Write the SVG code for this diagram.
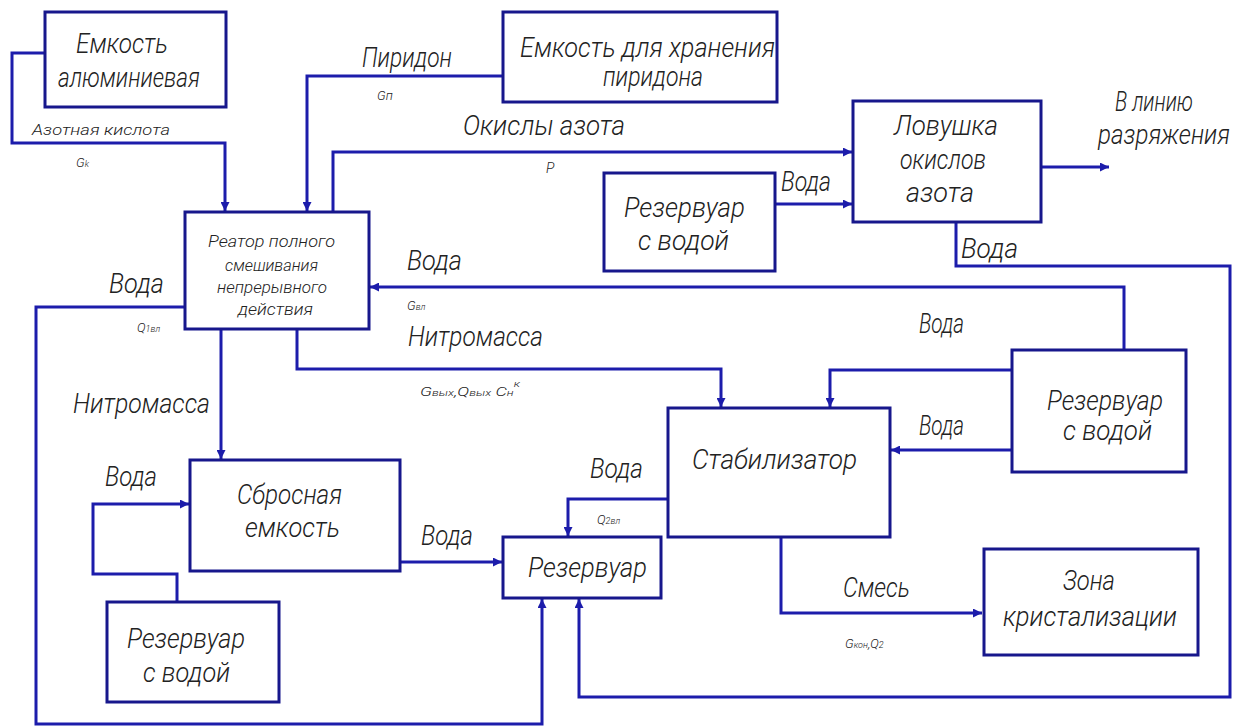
<svg xmlns="http://www.w3.org/2000/svg" width="1251" height="728" viewBox="0 0 1251 728">
  <style>
    .box { fill: #ffffff; stroke: #17178c; stroke-width: 3; }
    .ln { fill: none; stroke: #1c1cab; stroke-width: 3; stroke-linejoin: miter; }
    .arr { marker-end: url(#head); }
    text { font-family: Roboto, "Liberation Sans Narrow", "DejaVu Sans Condensed", sans-serif; font-style: italic; font-weight: 300; fill: #222222; }
    .big { font-size: 27px; }
    .mid { font-size: 16px; }
    .sm { font-size: 14px; }
    .xs { font-size: 13px; }
    .sub { font-size: 9px; }
  </style>
  <defs>
    <marker id="head" markerUnits="userSpaceOnUse" markerWidth="10" markerHeight="9" refX="9" refY="4.5" orient="auto">
      <path d="M0,0 L9,4.5 L0,9 Z" fill="#1c1cab"/>
    </marker>
  </defs>
  <rect width="1251" height="728" fill="#ffffff"/>

  <!-- flow lines -->
  <g id="connectors">
    <path class="ln arr" d="M45,53 H12 V143 H225 V211"/>
    <path class="ln arr" d="M503,76 H307 V211"/>
    <path class="ln arr" d="M333,212 V152 H852"/>
    <path class="ln arr" d="M775,204 H852"/>
    <path class="ln arr" d="M1040,167 H1109"/>
    <path class="ln arr" d="M956,222 V266 H1230 V697 H579 V599"/>
    <path class="ln arr" d="M1124,350 V287 H370"/>
    <path class="ln arr" d="M1012,370 H830 V407"/>
    <path class="ln arr" d="M1012,450 H891"/>
    <path class="ln arr" d="M297,329 V369 H721 V407"/>
    <path class="ln arr" d="M221,329 V459"/>
    <path class="ln arr" d="M185,307 H36 V724 H542 V599"/>
    <path class="ln arr" d="M177,602 V574 H93 V504 H189"/>
    <path class="ln arr" d="M400,562 H502"/>
    <path class="ln arr" d="M668,499 H568 V536"/>
    <path class="ln arr" d="M781,537 V613 H982"/>

    <!-- flow labels -->
    <text class="sm" x="32" y="135" textLength="138" lengthAdjust="spacingAndGlyphs">Азотная кислота</text>
    <text class="xs" x="76" y="167">G<tspan class="sub">k</tspan></text>
    <text class="big" x="362" y="67" textLength="90" lengthAdjust="spacingAndGlyphs">Пиридон</text>
    <text class="xs" x="377" y="100">Gп</text>
    <text class="big" x="463" y="135" textLength="162" lengthAdjust="spacingAndGlyphs">Окислы азота</text>
    <text class="sm" x="546" y="173">P</text>
    <text class="big" x="781" y="191" textLength="50" lengthAdjust="spacingAndGlyphs">Вода</text>
    <text class="big" x="1115" y="111" textLength="78" lengthAdjust="spacingAndGlyphs">В линию</text>
    <text class="big" x="1098" y="144" textLength="132" lengthAdjust="spacingAndGlyphs">разряжения</text>
    <text class="big" x="961" y="258" textLength="57" lengthAdjust="spacingAndGlyphs">Вода</text>
    <text class="big" x="109" y="293" textLength="55" lengthAdjust="spacingAndGlyphs">Вода</text>
    <text class="xs" x="137" y="332">Q<tspan class="sub">1вл</tspan></text>
    <text class="big" x="407" y="270" textLength="55" lengthAdjust="spacingAndGlyphs">Вода</text>
    <text class="xs" x="407" y="310">G<tspan class="sub">вл</tspan></text>
    <text class="big" x="408" y="346" textLength="135" lengthAdjust="spacingAndGlyphs">Нитромасса</text>
    <text class="xs" x="420" y="396" textLength="100" lengthAdjust="spacingAndGlyphs">G<tspan class="sub">вых</tspan>,Q<tspan class="sub">вых</tspan> C<tspan class="sub">н</tspan><tspan class="sub" dy="-9">к</tspan></text>
    <text class="big" x="73" y="413" textLength="137" lengthAdjust="spacingAndGlyphs">Нитромасса</text>
    <text class="big" x="919" y="333" textLength="45" lengthAdjust="spacingAndGlyphs">Вода</text>
    <text class="big" x="919" y="435" textLength="45" lengthAdjust="spacingAndGlyphs">Вода</text>
    <text class="big" x="105" y="486" textLength="52" lengthAdjust="spacingAndGlyphs">Вода</text>
    <text class="big" x="590" y="478" textLength="53" lengthAdjust="spacingAndGlyphs">Вода</text>
    <text class="xs" x="597" y="524">Q<tspan class="sub">2вл</tspan></text>
    <text class="big" x="421" y="545" textLength="52" lengthAdjust="spacingAndGlyphs">Вода</text>
    <text class="big" x="843" y="597" textLength="67" lengthAdjust="spacingAndGlyphs">Смесь</text>
    <text class="xs" x="845" y="648">G<tspan class="sub">кон</tspan>,Q<tspan class="sub">2</tspan></text>
  </g>

  <g id="tank-aluminium">
    <rect class="box" x="45" y="12" width="181" height="95"/>
    <text class="big" x="76" y="53" textLength="92" lengthAdjust="spacingAndGlyphs">Емкость</text>
    <text class="big" x="58" y="87" textLength="142" lengthAdjust="spacingAndGlyphs">алюминиевая</text>
  </g>

  <g id="tank-pyridone">
    <rect class="box" x="503" y="12" width="274" height="90"/>
    <text class="big" x="520" y="57" textLength="255" lengthAdjust="spacingAndGlyphs">Емкость для хранения</text>
    <text class="big" x="603" y="86" textLength="100" lengthAdjust="spacingAndGlyphs">пиридона</text>
  </g>

  <g id="reactor">
    <rect class="box" x="185" y="212" width="184" height="117"/>
    <text class="mid" x="208" y="247" textLength="127" lengthAdjust="spacingAndGlyphs">Реатор полного</text>
    <text class="mid" x="225" y="271" textLength="93" lengthAdjust="spacingAndGlyphs">смешивания</text>
    <text class="mid" x="217" y="293" textLength="110" lengthAdjust="spacingAndGlyphs">непрерывного</text>
    <text class="mid" x="238" y="315" textLength="75" lengthAdjust="spacingAndGlyphs">действия</text>
  </g>

  <g id="nox-trap">
    <rect class="box" x="853" y="101" width="188" height="121"/>
    <text class="big" x="894" y="135" textLength="104" lengthAdjust="spacingAndGlyphs">Ловушка</text>
    <text class="big" x="900" y="169" textLength="86" lengthAdjust="spacingAndGlyphs">окислов</text>
    <text class="big" x="906" y="202" textLength="68" lengthAdjust="spacingAndGlyphs">азота</text>
  </g>

  <g id="water-tank-top">
    <rect class="box" x="604" y="173" width="171" height="98"/>
    <text class="big" x="624" y="217" textLength="121" lengthAdjust="spacingAndGlyphs">Резервуар</text>
    <text class="big" x="638" y="250" textLength="91" lengthAdjust="spacingAndGlyphs">с водой</text>
  </g>

  <g id="water-tank-right">
    <rect class="box" x="1012" y="350" width="174" height="122"/>
    <text class="big" x="1047" y="410" textLength="116" lengthAdjust="spacingAndGlyphs">Резервуар</text>
    <text class="big" x="1063" y="440" textLength="89" lengthAdjust="spacingAndGlyphs">с водой</text>
  </g>

  <g id="stabilizer">
    <rect class="box" x="668" y="408" width="222" height="129"/>
    <text class="big" x="692" y="469" textLength="165" lengthAdjust="spacingAndGlyphs">Стабилизатор</text>
  </g>

  <g id="drain-tank">
    <rect class="box" x="190" y="460" width="210" height="111"/>
    <text class="big" x="237" y="504" textLength="105" lengthAdjust="spacingAndGlyphs">Сбросная</text>
    <text class="big" x="245" y="537" textLength="95" lengthAdjust="spacingAndGlyphs">емкость</text>
  </g>

  <g id="reservoir">
    <rect class="box" x="503" y="537" width="158" height="61"/>
    <text class="big" x="528" y="577" textLength="119" lengthAdjust="spacingAndGlyphs">Резервуар</text>
  </g>

  <g id="water-tank-bottom">
    <rect class="box" x="107" y="602" width="172" height="100"/>
    <text class="big" x="127" y="648" textLength="118" lengthAdjust="spacingAndGlyphs">Резервуар</text>
    <text class="big" x="143" y="682" textLength="87" lengthAdjust="spacingAndGlyphs">с водой</text>
  </g>

  <g id="crystallization">
    <rect class="box" x="984" y="549" width="214" height="106"/>
    <text class="big" x="1063" y="590" textLength="52" lengthAdjust="spacingAndGlyphs">Зона</text>
    <text class="big" x="1003" y="626" textLength="174" lengthAdjust="spacingAndGlyphs">кристализации</text>
  </g>
</svg>
